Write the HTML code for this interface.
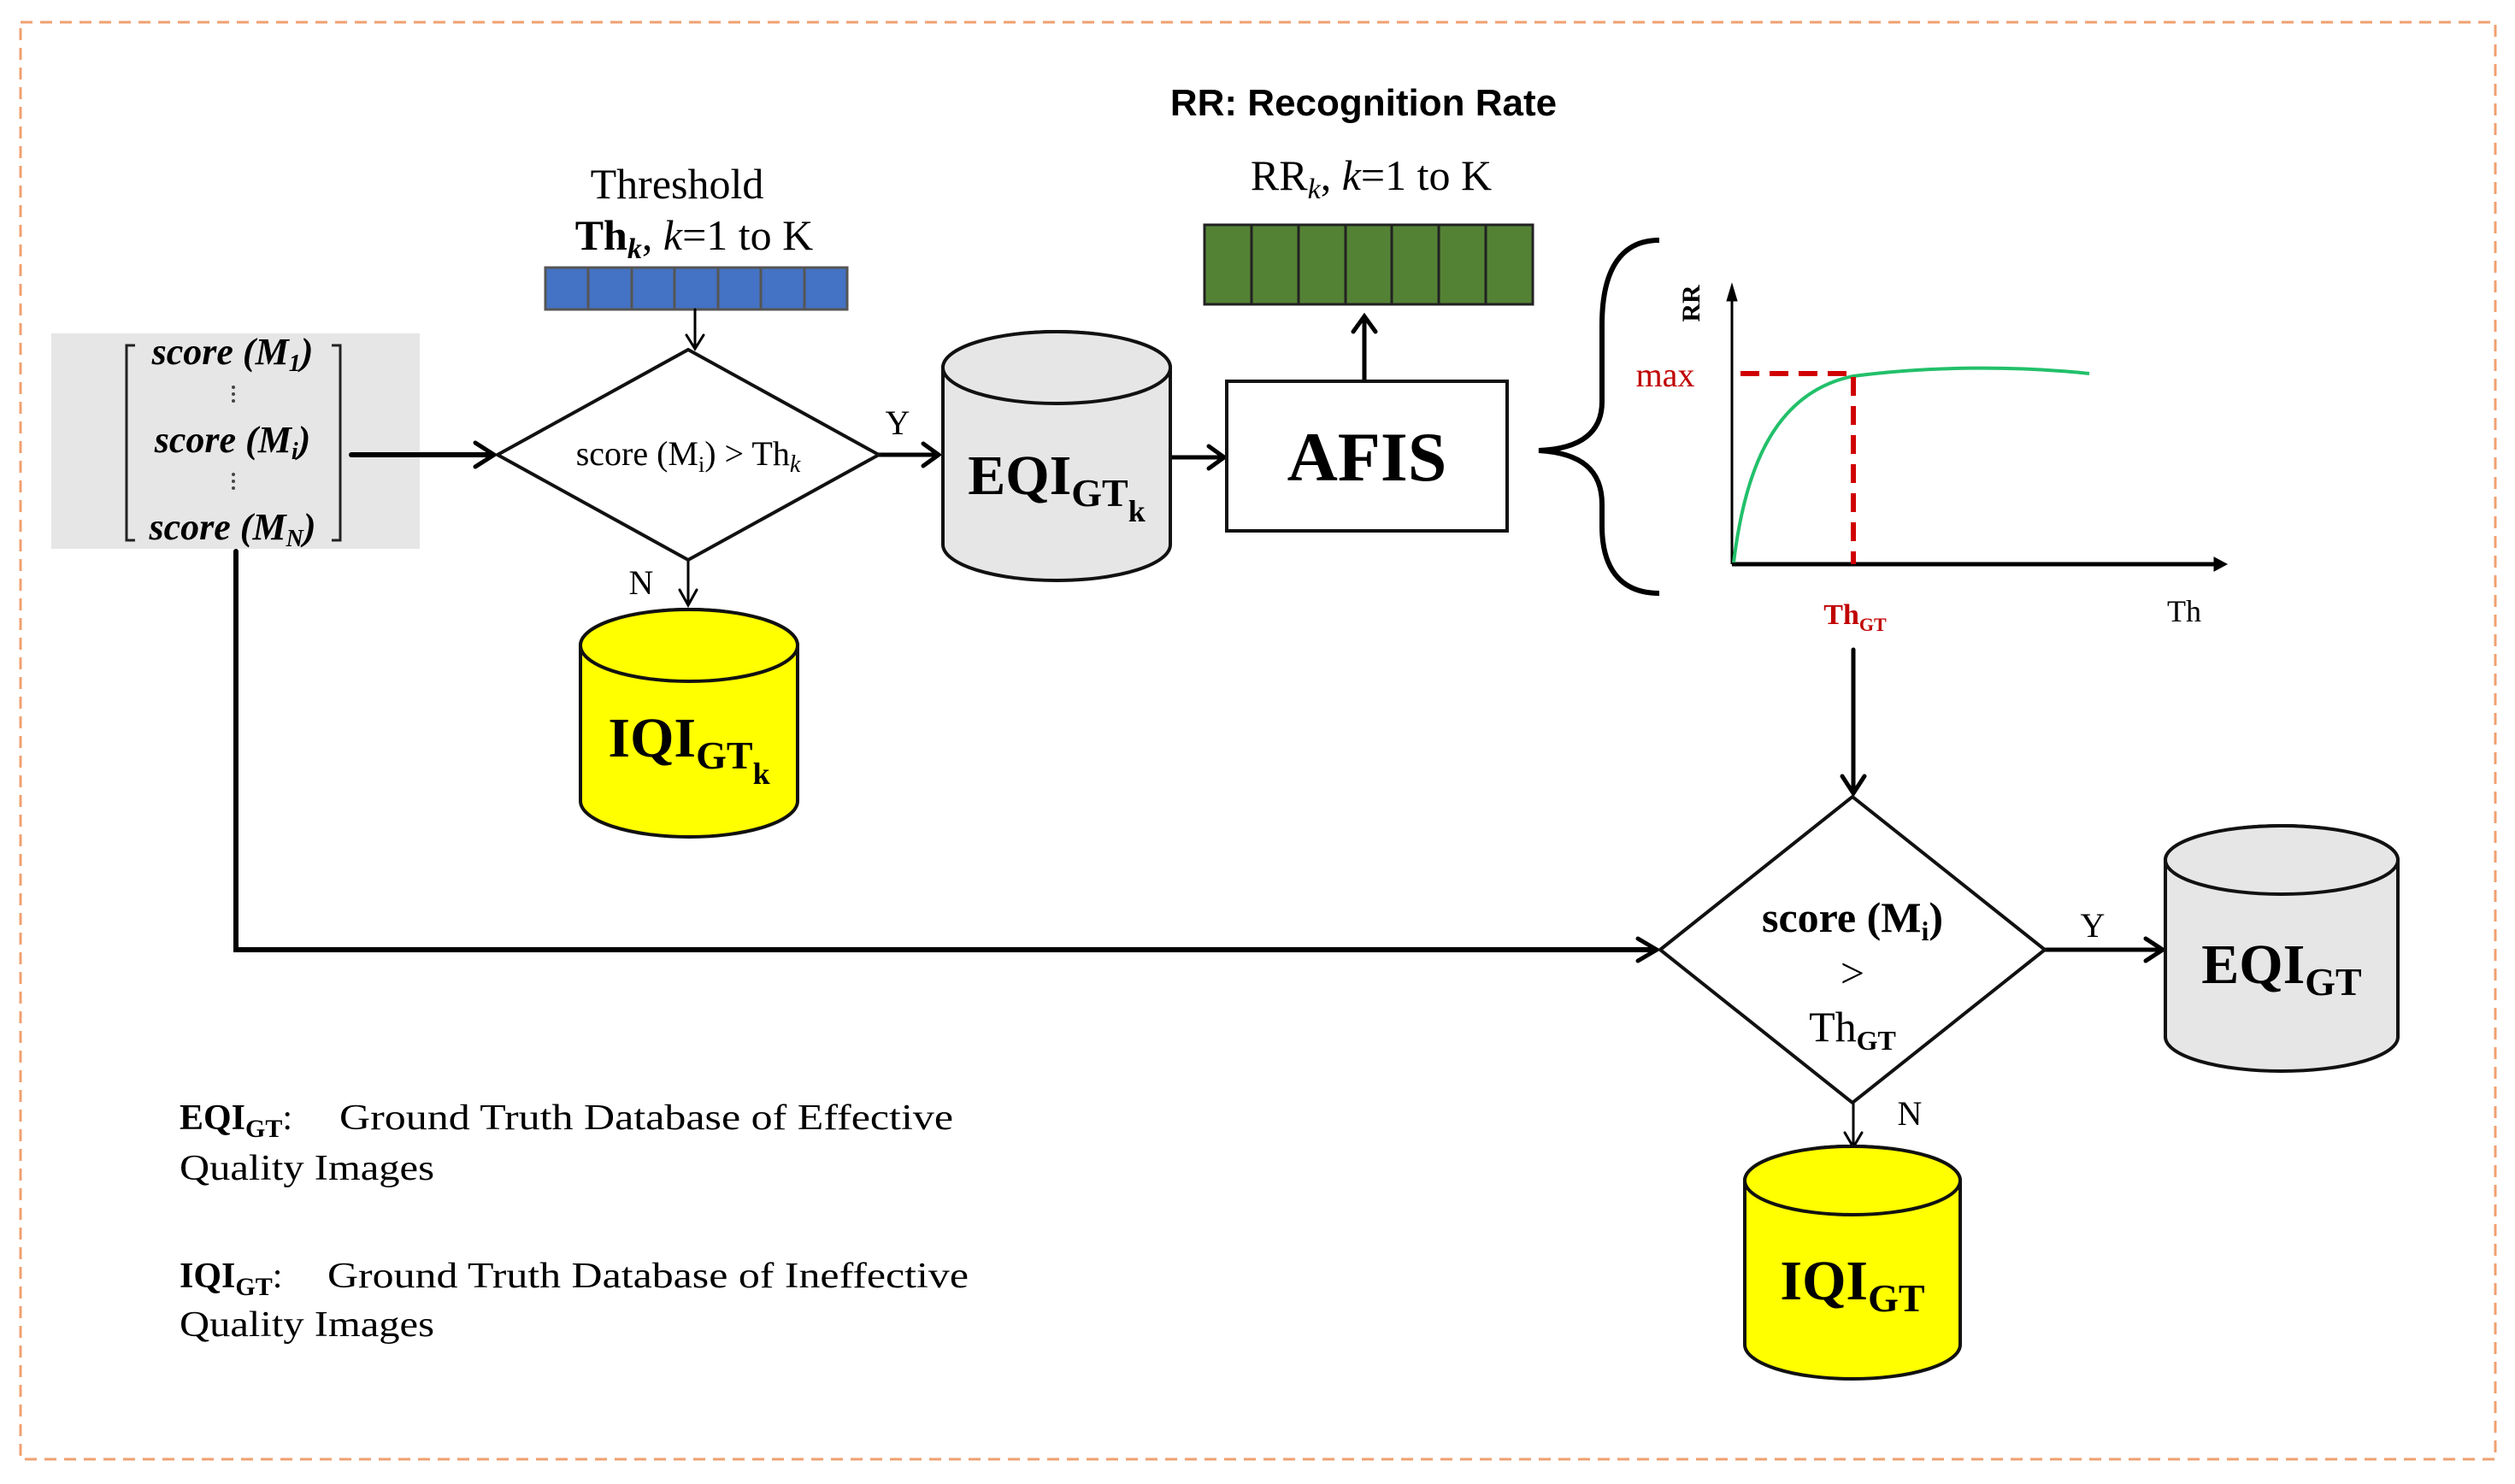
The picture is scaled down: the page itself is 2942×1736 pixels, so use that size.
<!DOCTYPE html>
<html><head><meta charset="utf-8"><style>
html,body{margin:0;padding:0;background:#fff;}
svg{display:block;}
text{font-family:"Liberation Serif",serif;}
</style></head><body>
<svg width="2942" height="1736" viewBox="0 0 2942 1736" xmlns="http://www.w3.org/2000/svg">
<rect x="24" y="26" width="2895" height="1681" fill="none" stroke="#f0a070" stroke-width="3" stroke-dasharray="14,9"/>

<text x="1595" y="135" font-weight="bold" font-size="44" text-anchor="middle" style="font-family:'Liberation Sans',sans-serif">RR: Recognition Rate</text>
<text x="1604" y="222" font-size="50" text-anchor="middle">RR<tspan font-style="italic" font-size="34" dy="10">k</tspan><tspan dy="-10">, </tspan><tspan font-style="italic">k</tspan>=1 to K</text>
<text x="792" y="232" font-size="50" text-anchor="middle">Threshold</text>
<text x="812" y="292" font-size="50" text-anchor="middle" font-weight="bold">Th<tspan font-style="italic" font-size="34" dy="10">k</tspan><tspan dy="-10" font-weight="normal">, </tspan><tspan font-style="italic" font-weight="normal">k</tspan><tspan font-weight="normal">=1 to K</tspan></text>

<g stroke="#555" stroke-width="3">
<rect x="638" y="313" width="353" height="49" fill="#4472c4"/>
<line x1="688" y1="313" x2="688" y2="362"/><line x1="739" y1="313" x2="739" y2="362"/><line x1="789" y1="313" x2="789" y2="362"/><line x1="840" y1="313" x2="840" y2="362"/><line x1="890" y1="313" x2="890" y2="362"/><line x1="941" y1="313" x2="941" y2="362"/>
</g>
<g stroke="#222" stroke-width="3">
<rect x="1409" y="263" width="384" height="93" fill="#548235"/>
<line x1="1464" y1="263" x2="1464" y2="356"/><line x1="1519" y1="263" x2="1519" y2="356"/><line x1="1574" y1="263" x2="1574" y2="356"/><line x1="1628" y1="263" x2="1628" y2="356"/><line x1="1683" y1="263" x2="1683" y2="356"/><line x1="1738" y1="263" x2="1738" y2="356"/>
</g>

<rect x="60" y="390" width="431" height="252" fill="#e6e6e6"/>
<path d="M158 404 H148 V632 H158 M388 404 H398 V632 H388" fill="none" stroke="#222" stroke-width="3"/>
<g font-style="italic" font-weight="bold" font-size="44" text-anchor="middle">
<text x="272" y="426">score (M<tspan font-size="28" dy="8">1</tspan><tspan dy="-8">)</tspan></text>
<text x="272" y="529">score (M<tspan font-size="28" dy="8">i</tspan><tspan dy="-8">)</tspan></text>
<text x="272" y="631">score (M<tspan font-size="28" dy="8">N</tspan><tspan dy="-8">)</tspan></text>
</g>
<g fill="#444"><circle cx="273" cy="453" r="2"/><circle cx="273" cy="461" r="2"/><circle cx="273" cy="469" r="2"/><circle cx="273" cy="555" r="2"/><circle cx="273" cy="563" r="2"/><circle cx="273" cy="571" r="2"/></g>

<g stroke="#000" fill="none" stroke-linecap="round">
<path d="M411 532 H576" stroke-width="6"/><path d="M556 518 L578 532 L556 546" stroke-width="5"/>
<path d="M813 362 V404" stroke-width="3"/><path d="M803 392 L813 408 L823 392" stroke-width="3"/>
<path d="M1028 532 H1096" stroke-width="5"/><path d="M1080 519 L1098 532 L1080 545" stroke-width="5"/>
<path d="M1370 535 H1430" stroke-width="5"/><path d="M1414 522 L1432 535 L1414 548" stroke-width="5"/>
<path d="M1596 446 V372" stroke-width="5"/><path d="M1583 388 L1596 370 L1609 388" stroke-width="5"/>
<path d="M805 653 V705" stroke-width="3"/><path d="M795 690 L805 708 L815 690" stroke-width="3"/>
<path d="M276 645 V1111 H1935" stroke-width="6"/><path d="M1916 1098 L1938 1111 L1916 1124" stroke-width="5"/>
<path d="M2168 760 V925" stroke-width="5"/><path d="M2155 908 L2168 928 L2181 908" stroke-width="5"/>
<path d="M2392 1111 H2528" stroke-width="5"/><path d="M2510 1098 L2530 1111 L2510 1124" stroke-width="5"/>
<path d="M2168 1291 V1340" stroke-width="3"/><path d="M2158 1325 L2168 1342 L2178 1325" stroke-width="3"/>
</g>

<polygon points="582,532 805,409 1028,532 805,655" fill="#fff" stroke="#111" stroke-width="4"/>
<text x="805" y="544" font-size="40" text-anchor="middle">score (M<tspan font-size="26" dy="8">i</tspan><tspan dy="-8">) &gt; Th</tspan><tspan font-size="28" font-style="italic" dy="8">k</tspan></text>
<text x="1050" y="508" font-size="40" text-anchor="middle">Y</text>
<text x="750" y="695" font-size="40" text-anchor="middle">N</text>

<g stroke="#111" stroke-width="4">
<path d="M1103 430 A133 42 0 0 1 1369 430 V637 A133 42 0 0 1 1103 637 Z" fill="#e6e6e6"/>
<ellipse cx="1236" cy="430" rx="133" ry="42" fill="#e6e6e6"/>
<path d="M679 755 A127 42 0 0 1 933 755 V937 A127 42 0 0 1 679 937 Z" fill="#ffff00"/>
<ellipse cx="806" cy="755" rx="127" ry="42" fill="#ffff00"/>
<path d="M2533 1006 A136 40 0 0 1 2805 1006 V1213 A136 40 0 0 1 2533 1213 Z" fill="#e6e6e6"/>
<ellipse cx="2669" cy="1006" rx="136" ry="40" fill="#e6e6e6"/>
<path d="M2041 1381 A126 40 0 0 1 2293 1381 V1573 A126 40 0 0 1 2041 1573 Z" fill="#ffff00"/>
<ellipse cx="2167" cy="1381" rx="126" ry="40" fill="#ffff00"/>
</g>
<g font-weight="bold" text-anchor="middle">
<text x="1236" y="578" font-size="66">EQI<tspan font-size="46" dy="14">GT</tspan><tspan font-size="36" dy="18">k</tspan></text>
<text x="806" y="885" font-size="66">IQI<tspan font-size="46" dy="14">GT</tspan><tspan font-size="36" dy="18">k</tspan></text>
<text x="2669" y="1150" font-size="66">EQI<tspan font-size="46" dy="14">GT</tspan></text>
<text x="2167" y="1520" font-size="66">IQI<tspan font-size="46" dy="14">GT</tspan></text>
</g>

<rect x="1435" y="446" width="328" height="175" fill="#fff" stroke="#111" stroke-width="4"/>
<text x="1599" y="562" font-size="82" font-weight="bold" text-anchor="middle">AFIS</text>

<path d="M1941 281 C1900 281 1874 310 1874 380 V470 C1874 505 1850 525 1800 527 C1850 530 1874 550 1874 590 V615 C1874 670 1900 694 1941 694" fill="none" stroke="#000" stroke-width="6"/>

<g stroke="#000" fill="none">
<path d="M2026 660 V340" stroke-width="3"/><path d="M2020 352 L2026 332 L2032 352 Z" fill="#000"/>
<path d="M2026 660 H2596" stroke-width="5"/><path d="M2590 652 L2605 660 L2590 668 Z" fill="#000"/>
</g>
<path d="M2028 658 C2040 560 2070 460 2168 440 C2260 428 2360 428 2444 437" fill="none" stroke="#22c06a" stroke-width="4"/>
<path d="M2036 437 H2168 V660" fill="none" stroke="#d00000" stroke-width="6" stroke-dasharray="22,12"/>
<text x="1978" y="355" font-size="30" font-weight="bold" text-anchor="middle" transform="rotate(-90 1978 355)" dy="10">RR</text>
<text x="1948" y="452" font-size="40" fill="#c00000" text-anchor="middle">max</text>
<text x="2170" y="730" font-size="34" fill="#c00000" font-weight="bold" text-anchor="middle">Th<tspan font-size="22" dy="8">GT</tspan></text>
<text x="2555" y="727" font-size="36" text-anchor="middle">Th</text>

<polygon points="1942,1111 2167,932 2392,1111 2167,1290" fill="#fff" stroke="#111" stroke-width="4"/>
<g text-anchor="middle" font-weight="bold">
<text x="2167" y="1090" font-size="50">score (M<tspan font-size="32" dy="10">i</tspan><tspan dy="-10">)</tspan></text>
<text x="2167" y="1155" font-size="50" font-weight="normal">&gt;</text>
<text x="2167" y="1218" font-size="50" font-weight="normal">Th<tspan font-size="32" font-weight="bold" dy="10">GT</tspan></text>
</g>
<text x="2448" y="1096" font-size="40" text-anchor="middle">Y</text>
<text x="2234" y="1316" font-size="40" text-anchor="middle">N</text>

<g font-size="42">
<text x="210" y="1321"><tspan font-weight="bold">EQI</tspan><tspan font-weight="bold" font-size="30" dy="9">GT</tspan><tspan dy="-9">:</tspan></text>
<text x="397" y="1321" textLength="718" lengthAdjust="spacingAndGlyphs">Ground Truth Database of Effective</text>
<text x="210" y="1380" textLength="298" lengthAdjust="spacingAndGlyphs">Quality Images</text>
<text x="210" y="1506"><tspan font-weight="bold">IQI</tspan><tspan font-weight="bold" font-size="30" dy="9">GT</tspan><tspan dy="-9">:</tspan></text>
<text x="383" y="1506" textLength="750" lengthAdjust="spacingAndGlyphs">Ground Truth Database of Ineffective</text>
<text x="210" y="1563" textLength="298" lengthAdjust="spacingAndGlyphs">Quality Images</text>
</g>
</svg>
</body></html>
